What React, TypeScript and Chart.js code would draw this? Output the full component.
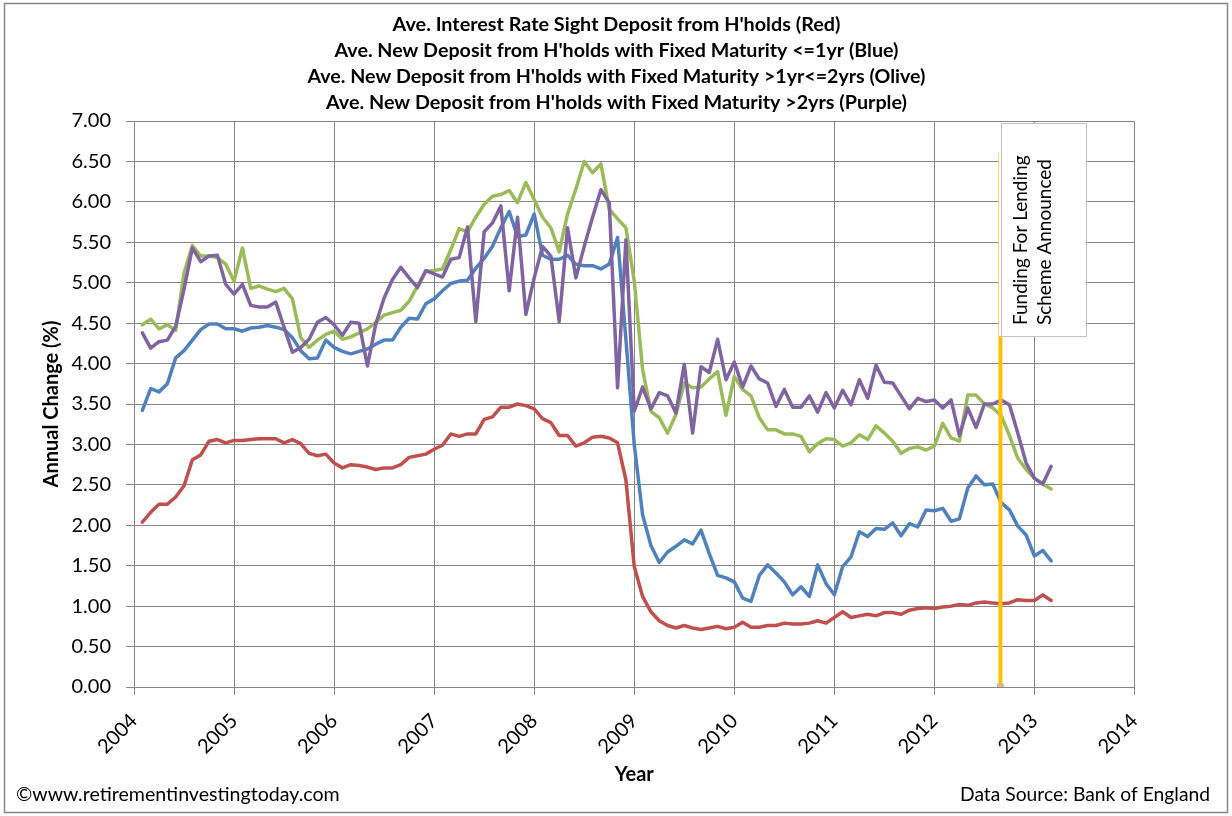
import { useEffect, useRef } from "react"
import { Chart, registerables, type Plugin } from "chart.js"

Chart.register(...registerables)

// monthly observations, first one at end of Jan 2004
const FIRST_MONTH = 2004 + 1 / 12

const yearTicks = [2004, 2005, 2006, 2007, 2008, 2009, 2010, 2011, 2012, 2013, 2014]
const rateTicks = [0, 0.5, 1, 1.5, 2, 2.5, 3, 3.5, 4, 4.5, 5, 5.5, 6, 6.5, 7]

// Sight deposits (red)
const sightRates = [
  2.04, 2.16, 2.26, 2.26, 2.35, 2.49, 2.81, 2.87, 3.04, 3.06, 3.02, 3.05,
  3.05, 3.06, 3.07, 3.07, 3.07, 3.02, 3.06, 3.01, 2.89, 2.86, 2.88, 2.77,
  2.71, 2.75, 2.74, 2.72, 2.69, 2.71, 2.71, 2.75, 2.84, 2.86, 2.88, 2.94,
  2.99, 3.13, 3.1, 3.13, 3.13, 3.31, 3.34, 3.46, 3.46, 3.5, 3.48, 3.44,
  3.32, 3.27, 3.11, 3.11, 2.98, 3.02, 3.09, 3.1, 3.08, 3.02, 2.56, 1.49,
  1.12, 0.93, 0.82, 0.76, 0.73, 0.76, 0.73, 0.71, 0.73, 0.75, 0.72, 0.74,
  0.8, 0.74, 0.74, 0.76, 0.76, 0.79, 0.78, 0.78, 0.79, 0.82, 0.79, 0.86,
  0.93, 0.86, 0.88, 0.9, 0.88, 0.92, 0.92, 0.9, 0.95, 0.97, 0.98, 0.97,
  0.99, 1.0, 1.02, 1.01, 1.04, 1.05, 1.04, 1.03, 1.04, 1.08, 1.07, 1.07,
  1.14, 1.07,
]

// Fixed maturity <= 1yr (blue)
const upTo1yrRates = [
  3.42, 3.69, 3.65, 3.75, 4.07, 4.16, 4.29, 4.42, 4.49, 4.49, 4.43, 4.43,
  4.4, 4.44, 4.45, 4.47, 4.45, 4.42, 4.32, 4.16, 4.06, 4.07, 4.29, 4.2,
  4.15, 4.12, 4.15, 4.18, 4.24, 4.29, 4.29, 4.45, 4.56, 4.55, 4.74, 4.8,
  4.9, 4.99, 5.02, 5.03, 5.18, 5.3, 5.45, 5.68, 5.88, 5.57, 5.59, 5.85,
  5.34, 5.29, 5.29, 5.34, 5.23, 5.21, 5.21, 5.17, 5.23, 5.56, 4.3, 3.0,
  2.13, 1.75, 1.54, 1.67, 1.74, 1.82, 1.77, 1.94, 1.65, 1.38, 1.35, 1.3,
  1.1, 1.06, 1.38, 1.51, 1.41, 1.3, 1.14, 1.24, 1.12, 1.51, 1.28, 1.14,
  1.49, 1.61, 1.92, 1.86, 1.96, 1.95, 2.03, 1.87, 2.02, 1.98, 2.19, 2.18,
  2.21, 2.05, 2.08, 2.46, 2.61, 2.5, 2.51, 2.28, 2.19, 1.99, 1.88, 1.62,
  1.69, 1.56,
]

// Fixed maturity >1yr <=2yrs (olive)
const oneToTwoYrRates = [
  4.48, 4.55, 4.43, 4.48, 4.41, 5.12, 5.46, 5.33, 5.33, 5.31, 5.23, 5.02,
  5.43, 4.93, 4.96, 4.92, 4.89, 4.93, 4.8, 4.32, 4.2, 4.29, 4.36, 4.4,
  4.3, 4.33, 4.38, 4.43, 4.51, 4.6, 4.63, 4.66, 4.77, 4.96, 5.14, 5.15,
  5.17, 5.41, 5.67, 5.63, 5.81, 5.97, 6.07, 6.09, 6.14, 5.99, 6.24, 6.03,
  5.81, 5.68, 5.38, 5.85, 6.16, 6.5, 6.36, 6.47, 5.91, 5.79, 5.68, 5.02,
  3.93, 3.41, 3.33, 3.14, 3.37, 3.76, 3.7, 3.71, 3.81, 3.9, 3.36, 3.84,
  3.68, 3.6, 3.33, 3.18, 3.18, 3.13, 3.13, 3.1, 2.91, 3.01, 3.07, 3.06,
  2.98, 3.02, 3.12, 3.06, 3.23, 3.14, 3.04, 2.89, 2.95, 2.97, 2.93, 2.98,
  3.26, 3.08, 3.04, 3.61, 3.61, 3.5, 3.45, 3.36, 3.11, 2.83, 2.69, 2.58,
  2.51, 2.45,
]

// Fixed maturity >2yrs (purple)
const over2yrRates = [
  4.38, 4.19, 4.27, 4.29, 4.46, 4.92, 5.43, 5.26, 5.33, 5.34, 4.98, 4.86,
  4.98, 4.72, 4.7, 4.7, 4.76, 4.45, 4.14, 4.2, 4.3, 4.51, 4.57, 4.48,
  4.35, 4.51, 4.5, 3.97, 4.49, 4.81, 5.04, 5.19, 5.06, 4.94, 5.15, 5.11,
  5.07, 5.29, 5.31, 5.69, 4.52, 5.63, 5.74, 5.95, 4.9, 5.81, 4.61, 5.06,
  5.45, 5.33, 4.52, 5.68, 5.06, 5.45, 5.81, 6.15, 5.99, 3.7, 5.53, 3.41,
  3.71, 3.44, 3.64, 3.6, 3.39, 3.99, 3.14, 3.96, 3.89, 4.3, 3.8, 4.02,
  3.71, 3.97, 3.81, 3.76, 3.47, 3.68, 3.46, 3.46, 3.6, 3.4, 3.64, 3.45,
  3.67, 3.49, 3.8, 3.57, 3.98, 3.77, 3.76, 3.6, 3.44, 3.57, 3.53, 3.55,
  3.45, 3.55, 3.11, 3.45, 3.21, 3.5, 3.5, 3.55, 3.49, 3.14, 2.77, 2.58,
  2.51, 2.73,
]

// Funding for Lending marker line
const flsDate = 2012.66
const flsRange = [0, 6.6]
const flsLabel = ["Funding For Lending", "Scheme Announced"]

const titleLines = [
  "Ave. Interest Rate Sight Deposit from H'holds (Red)",
  "Ave. New Deposit from H'holds with Fixed Maturity <=1yr (Blue)",
  "Ave. New Deposit from H'holds with Fixed Maturity >1yr<=2yrs (Olive)",
  "Ave. New Deposit from H'holds with Fixed Maturity >2yrs (Purple)",
]
// widths the title lines take up in the original layout
const titleWidths = [448, 564, 618, 581]

const FONT = "Lato, 'Open Sans', sans-serif"
const GRID = "#868686"

const toPoints = (values: number[]) =>
  values.map((y, i) => ({ x: FIRST_MONTH + i / 12, y }))

const decorations: Plugin = {
  id: "decorations",
  beforeDraw(chart) {
    const { ctx, width, height } = chart
    ctx.save()
    ctx.fillStyle = "#ffffff"
    ctx.fillRect(0, 0, width, height)
    ctx.restore()
  },
  afterDatasetsDraw(chart) {
    const { ctx } = chart
    const x = chart.scales.x
    const y = chart.scales.y
    // text box sits over the top part of the orange line
    const left = Math.round(x.getPixelForValue(flsDate)) - 1
    const top = y.getPixelForValue(7) + 2
    const bottom = y.getPixelForValue(4.34)
    ctx.save()
    ctx.fillStyle = "#ffffff"
    ctx.strokeStyle = "#bfbfbf"
    ctx.lineWidth = 1
    ctx.fillRect(left, top, 88, bottom - top)
    ctx.strokeRect(left + 2.5, top + 0.5, 85, bottom - top)
    ctx.translate(left + 2, bottom - 11)
    ctx.rotate(-Math.PI / 2)
    ctx.fillStyle = "#000000"
    ctx.font = `19px ${FONT}`
    ctx.textAlign = "left"
    ctx.textBaseline = "middle"
    ctx.fillText(flsLabel[0], 0, 20)
    ctx.fillText(flsLabel[1], 0, 44)
    ctx.restore()
  },
  afterDraw(chart) {
    const { ctx, chartArea } = chart
    ctx.save()
    ctx.fillStyle = "#000000"
    ctx.textBaseline = "middle"

    ctx.textAlign = "center"
    ctx.font = `bold 19.8px ${FONT}`
    titleLines.forEach((line, i) => ctx.fillText(line, 616.5, 25 + i * 26, titleWidths[i]))

    ctx.font = `bold 20px ${FONT}`
    ctx.fillText("Year", (chartArea.left + chartArea.right) / 2, 775)

    ctx.save()
    ctx.translate(52, (chartArea.top + chartArea.bottom) / 2)
    ctx.rotate(-Math.PI / 2)
    ctx.fillText("Annual Change (%)", 0, 0)
    ctx.restore()

    ctx.font = `19.6px ${FONT}`
    ctx.textAlign = "left"
    ctx.fillText("\u00a9www.retirementinvestingtoday.com", 16, 795, 326)
    ctx.textAlign = "right"
    ctx.fillText("Data Source: Bank of England", 1210, 795, 250)

    ctx.strokeStyle = GRID
    ctx.lineWidth = 1.5
    ctx.strokeRect(4.5, 3.5, 1223, 809)
    ctx.restore()
  },
}

export default function App() {
  const canvasRef = useRef<HTMLCanvasElement>(null)
  const chartRef = useRef<Chart | null>(null)

  useEffect(() => {
    if (!canvasRef.current) return
    if (chartRef.current) chartRef.current.destroy()

    const line = (data: number[], color: string, order: number) => ({
      data: toPoints(data),
      borderColor: color,
      backgroundColor: color,
      borderWidth: 3.5,
      borderJoinStyle: "round" as const,
      borderCapStyle: "round" as const,
      pointRadius: 0,
      tension: 0,
      order,
    })

    chartRef.current = new Chart(canvasRef.current, {
      type: "line",
      data: {
        datasets: [
          line(sightRates, "#C0504D", 4),
          line(upTo1yrRates, "#4F81BD", 3),
          line(oneToTwoYrRates, "#9BBB59", 2),
          line(over2yrRates, "#8064A2", 1),
          {
            data: flsRange.map((y) => ({ x: flsDate, y })),
            borderColor: "#FFC000",
            backgroundColor: "#F2C14E",
            borderWidth: 4,
            pointStyle: "rect",
            pointRadius: [4, 0],
            pointBorderColor: "#8FB3C9",
            pointBorderWidth: 1,
            order: 0,
          },
        ],
      },
      options: {
        responsive: false,
        animation: false,
        layout: { padding: { left: 0, top: 121, right: 97.5, bottom: 0 } },
        plugins: {
          legend: { display: false },
          title: { display: false },
          tooltip: { enabled: false },
        },
        scales: {
          x: {
            type: "linear",
            min: 2004,
            max: 2014,
            afterBuildTicks: (scale) => {
              scale.ticks = yearTicks.map((value) => ({ value }))
            },
            afterFit: (scale) => {
              scale.height = 129
            },
            grid: { color: GRID, lineWidth: 1, tickLength: 8 },
            border: { color: GRID, width: 1 },
            ticks: {
              minRotation: 45,
              maxRotation: 45,
              padding: 14,
              color: "#000000",
              font: { family: FONT, size: 20 },
              callback: (v) => String(v),
            },
          },
          y: {
            min: 0,
            max: 7,
            afterBuildTicks: (scale) => {
              scale.ticks = rateTicks.map((value) => ({ value }))
            },
            afterFit: (scale) => {
              scale.width = 134
            },
            grid: { color: GRID, lineWidth: 1, tickLength: 8 },
            border: { color: GRID, width: 1 },
            ticks: {
              padding: 15,
              color: "#000000",
              font: { family: FONT, size: 20 },
              callback: (v) => Number(v).toFixed(2),
            },
          },
        },
      },
      plugins: [decorations],
    })

    return () => {
      if (chartRef.current) {
        chartRef.current.destroy()
        chartRef.current = null
      }
    }
  }, [])

  return (
    <canvas
      ref={canvasRef}
      width={1232}
      height={816}
      style={{ position: "absolute", left: 0, top: 0, width: 1232, height: 816 }}
    />
  )
}
